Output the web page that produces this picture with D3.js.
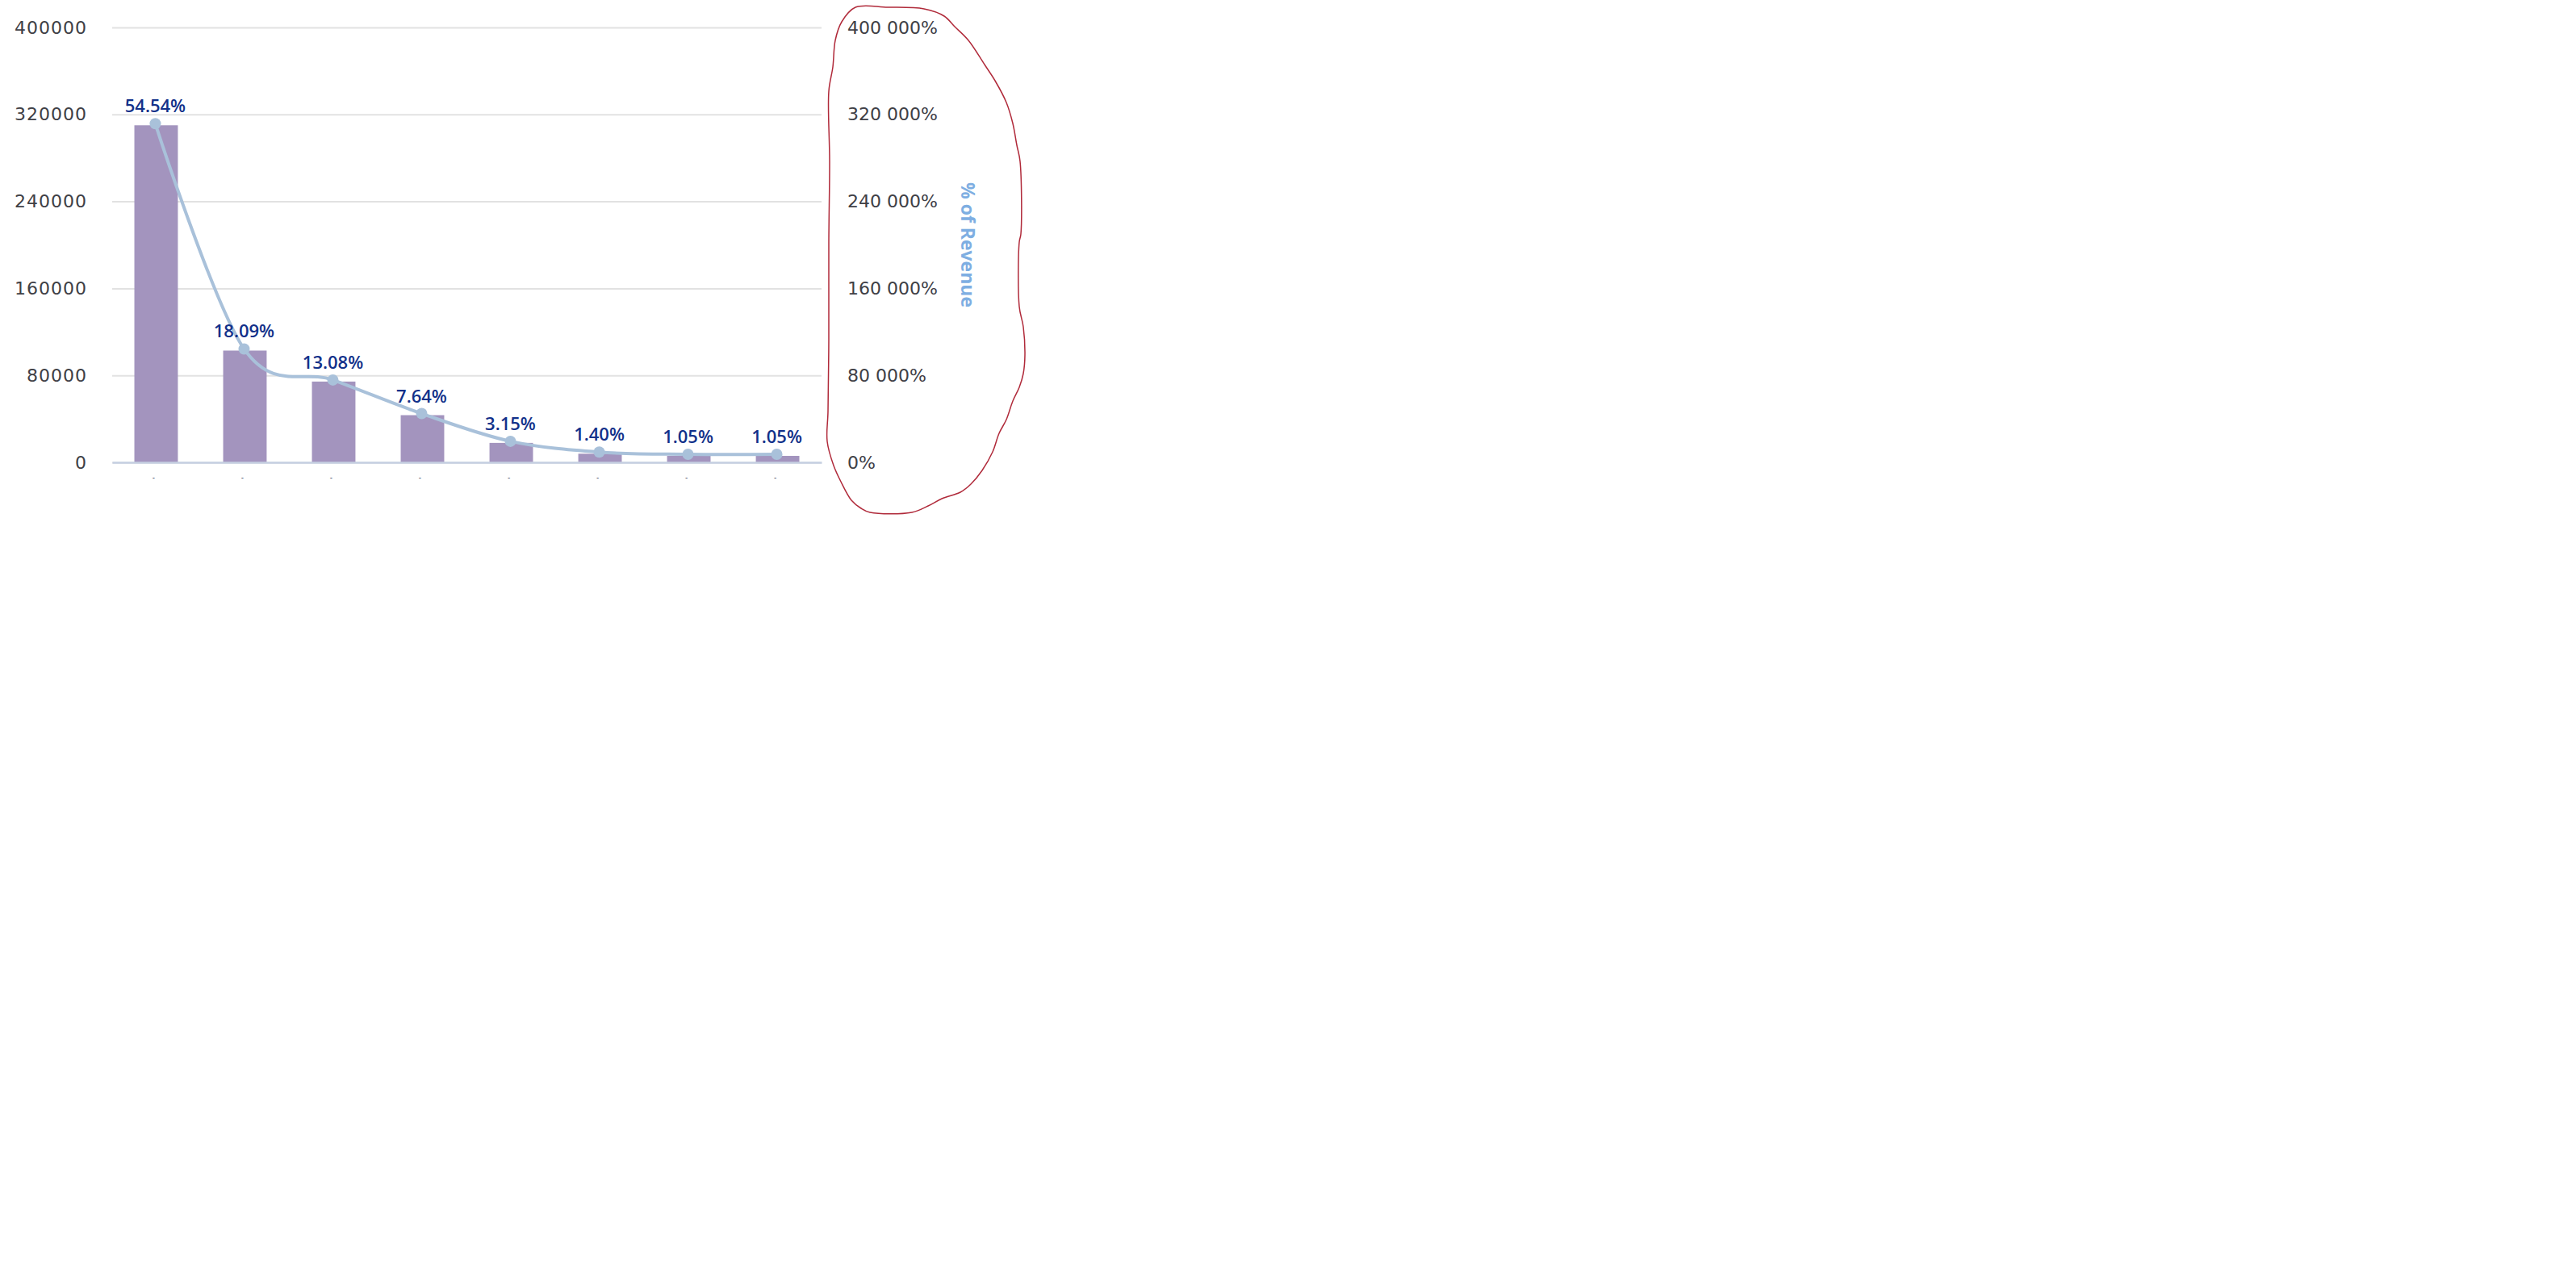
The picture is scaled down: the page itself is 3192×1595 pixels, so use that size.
<!DOCTYPE html>
<html>
<head>
<meta charset="utf-8">
<script src="https://cdn.jsdelivr.net/npm/d3@7"></script>
<style>
  body { margin: 0; background: #fff; }
  svg { display: block; }
</style>
</head>
<body>
<div id="chart-container"></div>
<script>
// values
const categories = ["c1", "c2", "c3", "c4", "c5", "c6", "c7", "c8"];
const xTickLabels = ["-", "-", "-", "-", "-", "-", "-", "-"];
const revenue = [310000, 102800, 74300, 43400, 17900, 7950, 5960, 5960];
const pctLabels = ["54.54%", "18.09%", "13.08%", "7.64%", "3.15%", "1.40%", "1.05%", "1.05%"];
const leftTicks = [0, 80000, 160000, 240000, 320000, 400000];
const rightTicks = [0, 800, 1600, 2400, 3200, 4000];

// hand drawn red loop round the right axis (annotation, page pixels)
const loop = [
  [1027,113],[1032,83],[1035,50],[1043,27],[1060,9],[1100,9],[1145,11],[1170,20],
  [1183,33],[1200,50],[1220,80],[1233,100],[1247,127],[1255,153],[1260,180],[1264,200],
  [1265,290],[1263,300],[1263,380],[1268,405],[1270,440],[1268,463],[1263,480],
  [1255,497],[1247,520],[1238,537],[1230,560],[1217,583],[1203,600],[1190,610],
  [1167,618],[1150,627],[1130,635],[1078,635],[1067,630],[1055,620],[1042,597],
  [1033,577],[1025,547],[1026,510],[1027,420],[1027,300],[1028,200]
];

const W = 3192, H = 1595;
const plot = {left: 139, right: 1018, top: 34, bottom: 573};

const svg = d3.select("#chart-container")
    .append("svg")
    .attr("width", W)
    .attr("height", H);

const x = d3.scaleBand()
    .domain(categories)
    .range([plot.left, plot.right])
    .paddingInner(0.51)
    .paddingOuter(0.25);

const y = d3.scaleLinear()
    .domain([0, 400000])
    .range([plot.bottom, plot.top]);

const y2 = d3.scaleLinear()
    .domain([0, 4000])
    .range([plot.bottom, plot.top]);

const pctFormat = d3.formatLocale({decimal: ".", thousands: " ", grouping: [3], currency: ["", ""]})
    .format(",.0%");

// gridlines + left axis
const left = svg.append("g")
    .attr("transform", `translate(${plot.left},0)`)
    .call(d3.axisLeft(y).tickValues(leftTicks).tickSize(-(plot.right - plot.left)).tickPadding(31).tickFormat(d3.format("d")));
left.select(".domain").remove();
left.selectAll(".tick line").attr("stroke", "#e2e2e2").attr("stroke-width", 2);
left.selectAll(".tick text")
    .style("font-family", "DejaVu Sans")
    .style("font-size", "22px")
    .style("letter-spacing", "1px")
    .attr("fill", "#404046");

// right axis
const right = svg.append("g")
    .attr("transform", `translate(${plot.right},0)`)
    .call(d3.axisRight(y2).tickValues(rightTicks).tickSize(0).tickPadding(32).tickFormat(d => pctFormat(d)));
right.select(".domain").remove();
right.selectAll(".tick text")
    .style("font-family", "DejaVu Sans")
    .style("font-size", "22px")
    .attr("fill", "#404046");

svg.append("text")
    .attr("transform", `translate(1191,${(plot.top + plot.bottom) / 2}) rotate(90)`)
    .attr("text-anchor", "middle")
    .style("font-family", "Open Sans")
    .style("font-weight", "700")
    .style("font-size", "23px")
    .attr("fill", "#7eaee2")
    .text("% of Revenue");

// bars
svg.append("g")
    .selectAll("rect")
    .data(revenue)
    .enter()
    .append("rect")
    .attr("x", (d, i) => x(categories[i]))
    .attr("y", d => y(d))
    .attr("width", x.bandwidth())
    .attr("height", d => y(0) - y(d))
    .attr("fill", "#a394be");

// baseline / x axis
const bottom = svg.append("g")
    .attr("transform", `translate(0,${plot.bottom})`)
    .call(d3.axisBottom(x).tickSize(0).tickPadding(16).tickFormat((d, i) => xTickLabels[i]));
bottom.select(".domain").attr("stroke", "#c6d0e2").attr("stroke-width", 2.5);
bottom.selectAll(".tick text")
    .style("font-family", "DejaVu Sans")
    .style("font-size", "9px")
    .attr("dx", "-3")
    .attr("fill", "#2a3350");

// percentage line
const cx = (d, i) => x(categories[i]) + x.bandwidth() / 2 - 1;
const line = d3.line()
    .x(cx)
    .y(d => y(d) - 2)
    .curve(d3.curveCardinal.tension(0));

svg.append("path")
    .datum(revenue)
    .attr("d", line)
    .attr("fill", "none")
    .attr("stroke", "#a9c1da")
    .attr("stroke-width", 4);

svg.append("g")
    .selectAll("circle")
    .data(revenue)
    .enter()
    .append("circle")
    .attr("cx", cx)
    .attr("cy", d => y(d) - 2)
    .attr("r", 7)
    .attr("fill", "#a9c1da");

svg.append("g")
    .selectAll("text")
    .data(revenue)
    .enter()
    .append("text")
    .attr("x", cx)
    .attr("y", d => y(d) - 16)
    .attr("text-anchor", "middle")
    .style("font-family", "Open Sans")
    .style("font-weight", "600")
    .style("font-size", "22px")
    .attr("fill", "#12318a")
    .text((d, i) => pctLabels[i]);

// red annotation loop
svg.append("path")
    .datum(loop)
    .attr("d", d3.line().curve(d3.curveCatmullRomClosed))
    .attr("fill", "none")
    .attr("stroke", "#b02a3a")
    .attr("stroke-width", 1.5);
</script>
</body>
</html>
